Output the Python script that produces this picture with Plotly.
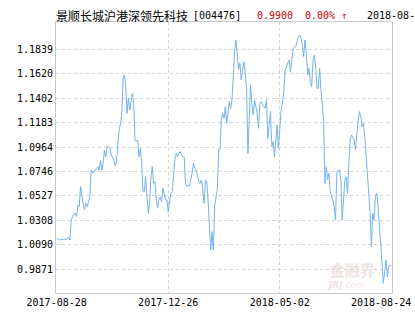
import plotly.graph_objects as go

# ---- data ----
nav = [
    1.0148, 1.0140, 1.0133, 1.0138, 1.0142, 1.0136, 1.0140, 1.0133, 1.0150, 1.0160,
    1.0133, 1.0312, 1.0340, 1.0365, 1.0372, 1.0342, 1.0446, 1.0431, 1.0610, 1.0520,
    1.0450, 1.0402, 1.0461, 1.0431, 1.0470, 1.0521, 1.0759, 1.0730, 1.0744, 1.0765,
    1.0774, 1.0789, 1.0759, 1.0849, 1.0759, 1.0820, 1.0938, 1.0878, 1.0974, 1.0968,
    1.0960, 1.0894,
    1.0866, 1.0849, 1.0795, 1.0830, 1.0974, 1.1117, 1.1171, 1.1251, 1.1580, 1.1609,
    1.1504, 1.1266, 1.1401, 1.1296, 1.1370, 1.1445, 1.1356, 1.1028, 1.1013, 1.1028,
    1.0878, 1.0953, 1.0819, 1.0565, 1.0565, 1.0699, 1.0521, 1.0372, 1.0476, 1.0699,
    1.0789, 1.0640, 1.0655, 1.0491, 1.0420, 1.0491, 1.0518, 1.0476, 1.0596, 1.0536,
    1.0491,
    1.0491, 1.0386, 1.0476, 1.0551, 1.0565, 1.0730, 1.0849, 1.0909, 1.0878, 1.0909,
    1.0923, 1.0894, 1.0878, 1.0878, 1.0640, 1.0610, 1.0625, 1.0616, 1.0670, 1.0730,
    1.0819, 1.0774, 1.0759, 1.0699, 1.0655, 1.0640, 1.0670, 1.0580, 1.0461, 1.0670,
    1.0655, 1.0491, 1.0193, 1.0044, 1.0208, 1.0044, 1.0431, 1.0521, 1.0596, 1.0938,
    1.0938, 1.1207, 1.1266, 1.1222,
    1.1325, 1.1177, 1.1296, 1.1370, 1.1311, 1.1386, 1.1594, 1.1833, 1.1922, 1.1773,
    1.1660, 1.1714, 1.1564, 1.1654, 1.1728, 1.1624, 1.1504, 1.0909, 1.1207, 1.1520,
    1.1356, 1.1251, 1.1386, 1.1325, 1.1266, 1.1132, 1.1356, 1.1370, 1.1341, 1.1325,
    1.1311, 1.1386, 1.1040, 1.1162, 1.1281, 1.0968, 1.1013, 1.0878, 1.1072, 1.1162,
    1.0953,
    1.1180, 1.1296, 1.1359, 1.1457, 1.1654, 1.1683, 1.1728, 1.1743, 1.1639, 1.1743,
    1.1833, 1.1862, 1.1862, 1.1907, 1.1952, 1.1967, 1.1937, 1.1877, 1.1773, 1.1922,
    1.1803, 1.1609, 1.1669, 1.1549, 1.1504, 1.1728, 1.1788, 1.1683, 1.1490, 1.1490,
    1.1669, 1.1475, 1.1370, 1.1207, 1.0640, 1.0789, 1.0670, 1.0730, 1.0565,
    1.0536, 1.0491, 1.0431, 1.0312,
    1.0744, 1.0759, 1.0759, 1.0670, 1.0312, 1.0461, 1.0670, 1.0699, 1.0551,
    1.0819, 1.1028, 1.1072, 1.1045, 1.1028, 1.0938, 1.1088, 1.1207, 1.1281,
    1.1236, 1.1147, 1.1177, 1.1057, 1.0909, 1.0730, 1.0551, 1.0372, 1.0073, 1.0372,
    1.0312, 1.0521, 1.0551, 1.0431, 1.0283, 1.0104, 0.9925, 0.9746, 0.9835, 0.9954,
    0.9805, 0.9894, 0.9909, 0.9900,
]
x_tick_labels = ["2017-08-28", "2017-12-26", "2018-05-02", "2018-08-24"]
y_tick_values = [0.9871, 1.0090, 1.0308, 1.0527, 1.0746, 1.0964,
                 1.1183, 1.1402, 1.1620, 1.1839]
fund_name = "景顺长城沪港深领先科技"
fund_code = "[004476]"
latest_nav = "0.9900"
latest_change = "0.00% ↑"
latest_date = "2018-08-24"

# ---- figure ----
n = len(nav)
idx = list(range(n))
tick_idx = [0, round((n - 1) / 3), round(2 * (n - 1) / 3), n - 1]

W, H = 415, 330
ML, MR, MT, MB = 56, 23, 22, 37
PW = W - ML - MR
PH = H - MT - MB

def px_to_paper_x(px):
    return (px - ML) / PW

def py_to_paper_y(py):
    return (H - MB - py) / PH

mono = "DejaVu Sans Mono"
cjk = "Noto Sans CJK SC"

fig = go.Figure(
    go.Scatter(x=idx, y=nav, mode="lines",
               line=dict(color="#74b3ee", width=1), hoverinfo="skip")
)

axis_common = dict(
    showline=True, mirror=True, linecolor="#c8c8c8", linewidth=1,
    showgrid=True, gridcolor="#d2d2d2", gridwidth=1, griddash="3px,3px",
    zeroline=False, ticks="",
    tickfont=dict(family=mono, size=10, color="#000000"),
    fixedrange=True,
)

fig.update_layout(
    width=W, height=H,
    margin=dict(l=ML, r=MR, t=MT, b=MB, pad=0),
    paper_bgcolor="white", plot_bgcolor="white",
    showlegend=False,
    xaxis=dict(range=[-0.5, n - 0.5], tickvals=tick_idx[:3],
               ticktext=x_tick_labels[:3], **axis_common),
    yaxis=dict(range=[0.9659, 1.2083], tickvals=y_tick_values,
               ticktext=[f"{v:.4f}" for v in y_tick_values], **axis_common),
)

ty = py_to_paper_y(15.5)
annotations = [
    dict(text=fund_name, x=px_to_paper_x(54), font=dict(family=cjk, size=12, color="#000000")),
    dict(text=fund_code, x=px_to_paper_x(191), font=dict(family=mono, size=10, color="#000000")),
    dict(text=latest_nav, x=px_to_paper_x(255), font=dict(family=mono, size=10, color="#c80000")),
    dict(text=latest_change, x=px_to_paper_x(303), font=dict(family=mono, size=10, color="#c80000")),
    dict(text=latest_date, x=px_to_paper_x(365), font=dict(family=mono, size=10, color="#000000")),
]
for a in annotations:
    fig.add_annotation(xref="paper", yref="paper", y=ty, xanchor="left",
                       yanchor="middle", showarrow=False, **a)

# last x label, shifted left to stay inside the picture
fig.add_annotation(xref="x", yref="paper", x=tick_idx[3], y=py_to_paper_y(302.5),
                   xanchor="center", yanchor="middle", xshift=-10, showarrow=False,
                   text=x_tick_labels[3], font=dict(family=mono, size=10, color="#000000"))

# watermark
fig.add_annotation(xref="paper", yref="paper", x=px_to_paper_x(352), y=py_to_paper_y(269),
                   xanchor="center", yanchor="middle", showarrow=False,
                   text="<b>金融界</b>", font=dict(family=cjk, size=15, color="#f1e2e2"))
fig.add_annotation(xref="paper", yref="paper", x=px_to_paper_x(346), y=py_to_paper_y(285),
                   xanchor="center", yanchor="middle", showarrow=False,
                   text="<i><b>JRJ</b>.com</i>", font=dict(family="DejaVu Sans", size=9, color="#f1e2e2"))

fig.write_html("out.html", config={"displayModeBar": False, "staticPlot": True})
